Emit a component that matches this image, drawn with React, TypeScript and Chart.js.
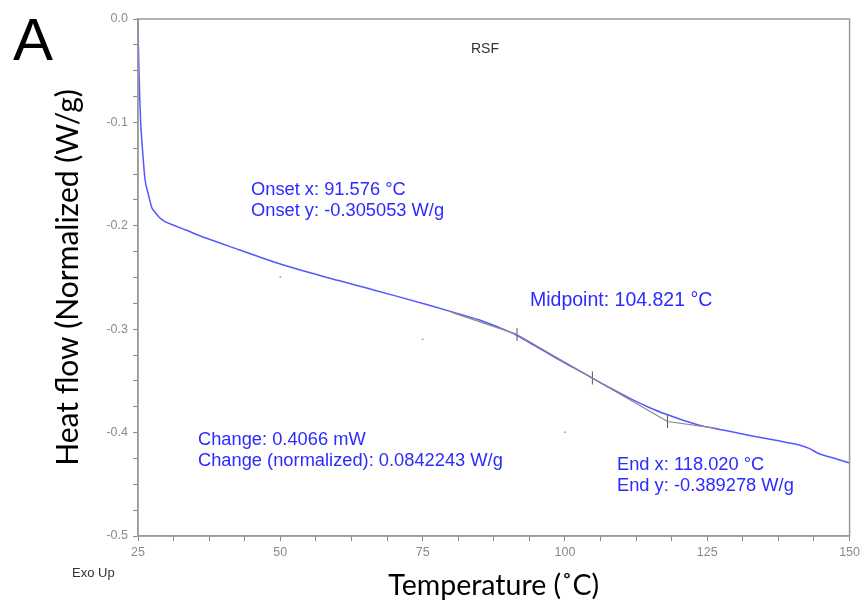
import { useEffect, useRef } from "react";
import { Chart, registerables } from "chart.js";

Chart.register(...registerables);

// Main DSC curve (temperature °C, heat flow W/g)
const temperatureC = [
  25, 25.05, 25.15, 25.3, 25.47, 25.8, 26.23, 26.8, 27.4, 27.68, 28.3, 28.86, 29.74, 31.5, 33.5,
  37.05, 42.9, 48.74, 54.6, 60.44, 65.5, 70.39, 76, 82.02, 85, 88, 91.44, 92.02, 95, 98, 101.5,
  104.88, 108, 111.5, 115, 118.04, 121, 124.12, 128, 132.89, 137, 141.14, 142.9, 144.65, 147, 150,
];
const heatFlowWg = [
  0, -0.02, -0.046, -0.075, -0.1, -0.127, -0.155, -0.169, -0.182, -0.1847, -0.189, -0.1925, -0.196,
  -0.1999, -0.2043, -0.2121, -0.2234, -0.2347, -0.2444, -0.2532, -0.2607, -0.268, -0.2766, -0.2863,
  -0.2911, -0.2974, -0.3056, -0.3075, -0.3168, -0.3265, -0.3372, -0.3475, -0.357, -0.3672, -0.3762,
  -0.3828, -0.3885, -0.3935, -0.3978, -0.4032, -0.4075, -0.412, -0.4152, -0.4205, -0.4243, -0.4294,
];

// Tangent construction lines (gray)
const preTangentX = [80, 91.576];
const preTangentY = [-0.2835, -0.305053];
const transitionTangentX = [91.576, 118.02];
const transitionTangentY = [-0.305053, -0.389278];
const postTangentX = [118.02, 127];
const postTangentY = [-0.389278, -0.3962];

// Analysis markers (onset, midpoint, end)
const markerX = [91.576, 104.821, 118.02];
const markerY = [-0.305053, -0.3472, -0.389278];

// Stray small dots
const dotX = [50, 75, 100];
const dotY = [-0.2495, -0.3098, -0.3997];

// Axis ranges / ticks
const xMin = 25;
const xMax = 150;
const xLabelStep = 25;
const xMinorStep = 6.25;
const yMin = -0.5;
const yMax = 0;
const yLabelStep = 0.1;
const yMinorStep = 0.025;

const pts = (xs: number[], ys: number[]) => xs.map((x, i) => ({ x, y: ys[i] }));

const isMultiple = (v: number, step: number) => {
  const r = v / step;
  return Math.abs(r - Math.round(r)) < 1e-6;
};

const BLUE_TEXT = "#2b2bff";

const overlayPlugin = {
  id: "overlay",
  afterDraw(chart: any) {
    const { ctx, chartArea } = chart;
    ctx.save();
    // frame
    ctx.strokeStyle = "#9a9a9a";
    ctx.lineWidth = 1.5;
    ctx.strokeRect(chartArea.left, chartArea.top, chartArea.right - chartArea.left, chartArea.bottom - chartArea.top);

    ctx.textBaseline = "alphabetic";
    ctx.textAlign = "left";
    // Panel letter
    ctx.fillStyle = "#000";
    ctx.font = "60px 'Liberation Sans', Arial, sans-serif";
    ctx.fillText("A", 13, 60);

    // Sample name
    ctx.fillStyle = "#333";
    ctx.font = "14px 'Liberation Sans', Arial, sans-serif";
    ctx.textAlign = "center";
    ctx.fillText("RSF", 485, 53);

    // Exo Up
    ctx.textAlign = "left";
    ctx.font = "13px 'Liberation Sans', Arial, sans-serif";
    ctx.fillText("Exo Up", 72, 577);

    // Annotations
    ctx.fillStyle = BLUE_TEXT;
    ctx.font = "18.3px 'Liberation Sans', Arial, sans-serif";
    ctx.fillText("Onset x: 91.576 °C", 251, 195);
    ctx.fillText("Onset y: -0.305053 W/g", 251, 216);
    ctx.fillText("Change: 0.4066 mW", 198, 445);
    ctx.fillText("Change (normalized): 0.0842243 W/g", 198, 466);
    ctx.fillText("End x: 118.020 °C", 617, 470);
    ctx.fillText("End y: -0.389278 W/g", 617, 491);
    ctx.font = "19.5px 'Liberation Sans', Arial, sans-serif";
    ctx.fillText("Midpoint: 104.821 °C", 530, 306);
    ctx.restore();
  },
};

export default function App() {
  const canvasRef = useRef<HTMLCanvasElement | null>(null);

  useEffect(() => {
    if (!canvasRef.current) return;
    const tickFont = { family: "'Liberation Sans', Arial, sans-serif", size: 12.5 };
    const chart = new Chart(canvasRef.current, {
      type: "scatter",
      data: {
        datasets: [
          {
            label: "Pre tangent",
            data: pts(preTangentX, preTangentY),
            showLine: true,
            borderColor: "#8a8a8a",
            borderWidth: 1.2,
            pointRadius: 0,
          },
          {
            label: "Transition tangent",
            data: pts(transitionTangentX, transitionTangentY),
            showLine: true,
            borderColor: "#8a8a8a",
            borderWidth: 1.2,
            pointRadius: 0,
          },
          {
            label: "Post tangent",
            data: pts(postTangentX, postTangentY),
            showLine: true,
            borderColor: "#8a8a8a",
            borderWidth: 1.2,
            pointRadius: 0,
          },
          {
            label: "RSF",
            data: pts(temperatureC, heatFlowWg),
            showLine: true,
            borderColor: "#5757ff",
            borderWidth: 1.5,
            pointRadius: 0,
            cubicInterpolationMode: "monotone",
          },
          {
            label: "Markers",
            data: pts(markerX, markerY),
            showLine: false,
            pointStyle: "line",
            rotation: 90,
            pointRadius: 6.5,
            borderColor: "#555",
            borderWidth: 1,
          },
          {
            label: "Dots",
            data: pts(dotX, dotY),
            showLine: false,
            pointRadius: 1,
            backgroundColor: "#aaa",
            borderColor: "#aaa",
            borderWidth: 0,
          },
        ],
      },
      options: {
        animation: false,
        responsive: false,
        devicePixelRatio: 1,
        layout: { padding: { left: 0, top: 19, right: 13.5, bottom: 0 } },
        plugins: { legend: { display: false }, tooltip: { enabled: false }, title: { display: false } },
        scales: {
          x: {
            type: "linear",
            min: xMin,
            max: xMax,
            afterFit(scale: any) {
              scale.height = 69;
            },
            border: { display: true, color: "#9a9a9a", width: 1.5 },
            grid: { display: true, drawOnChartArea: false, drawTicks: true, tickLength: 5, color: "#888" },
            ticks: {
              stepSize: xMinorStep,
              autoSkip: false,
              maxRotation: 0,
              padding: 4,
              color: "#8a8a8a",
              font: tickFont,
              callback: (v: any) => (isMultiple(Number(v), xLabelStep) ? String(Math.round(Number(v))) : ""),
            },
            title: {
              display: true,
              text: "Temperature (˚C)",
              color: "#000",
              font: { family: "Lato, 'Open Sans', sans-serif", size: 28.5, lineHeight: 1 },
              padding: { top: 0, bottom: 5 },
            },
          },
          y: {
            type: "linear",
            min: yMin,
            max: yMax,
            afterFit(scale: any) {
              scale.width = 138;
            },
            border: { display: true, color: "#9a9a9a", width: 1.5 },
            grid: { display: true, drawOnChartArea: false, drawTicks: true, tickLength: 5, color: "#888" },
            ticks: {
              stepSize: yMinorStep,
              autoSkip: false,
              padding: 5,
              color: "#8a8a8a",
              font: tickFont,
              callback: (v: any) => (isMultiple(Number(v), yLabelStep) ? Number(v).toFixed(1) : ""),
            },
            title: {
              display: true,
              text: "Heat flow (Normalized (W/g)",
              color: "#000",
              font: { family: "Lato, 'Open Sans', sans-serif", size: 30, lineHeight: 1 },
              padding: { top: 53.5, bottom: 0 },
            },
          },
        },
      },
      plugins: [overlayPlugin],
    } as any);
    return () => chart.destroy();
  }, []);

  return (
    <div style={{ position: "absolute", left: 0, top: 0, width: 864, height: 605, background: "#fff" }}>
      <canvas ref={canvasRef} width={864} height={605} style={{ display: "block" }} />
    </div>
  );
}
